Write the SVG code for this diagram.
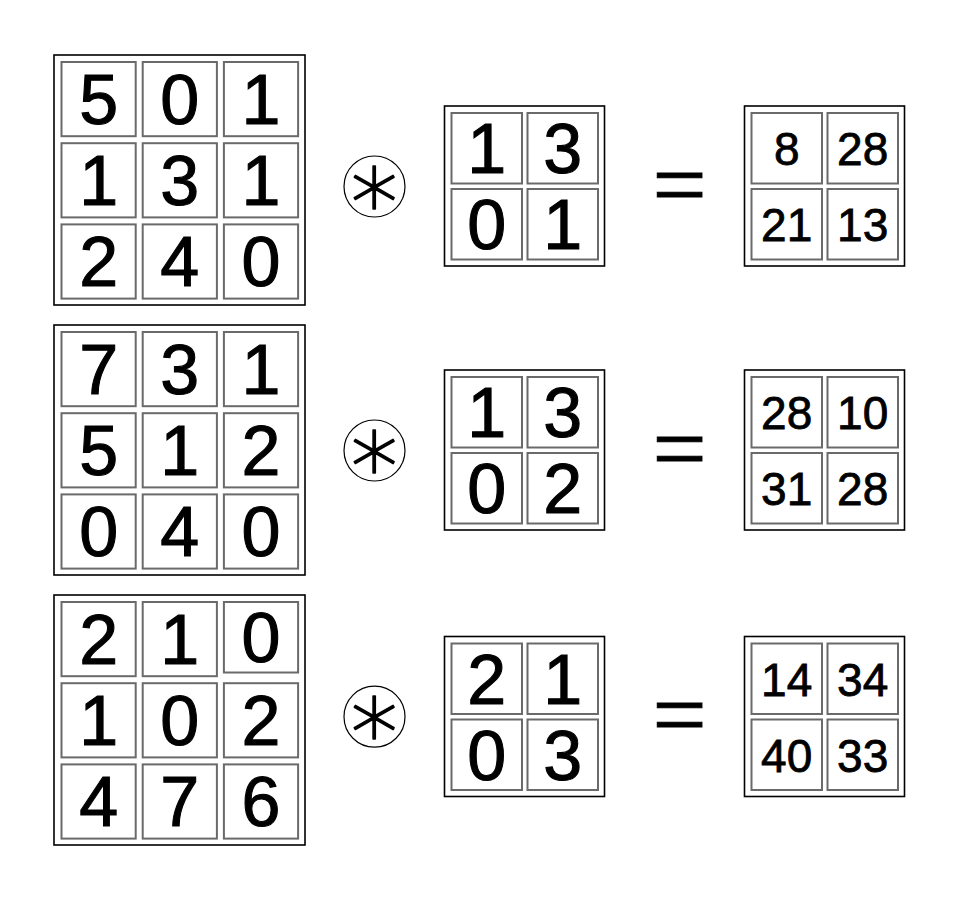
<svg xmlns="http://www.w3.org/2000/svg" width="960" height="902" viewBox="0 0 960 902">
<style>
.bg{fill:#fff}
.outer{fill:#fff;stroke:#000;stroke-width:1.6}
.cell{fill:#fff;stroke:#6a6a6a;stroke-width:2}
.big{font-family:"Liberation Sans",Arial,sans-serif;font-size:70px;text-anchor:middle;fill:#000;stroke:#000;stroke-width:1.1}
.small{font-family:"Liberation Sans",Arial,sans-serif;font-size:46px;text-anchor:middle;fill:#000;stroke:#000;stroke-width:0.8}
.ring{fill:#fff;stroke:#000;stroke-width:1.2}
.ast{font-family:"DejaVu Sans",sans-serif;font-weight:200;font-size:94px;text-anchor:middle;fill:#000;stroke:#000;stroke-width:1.6;stroke-linejoin:round}
.eq{font-family:"Liberation Serif",serif;font-size:96px;text-anchor:middle;fill:#000;stroke:#000;stroke-width:1}
</style>
<rect class="bg" x="0" y="0" width="960" height="902"/>

<!-- Row 1 -->
<g id="input1">
<rect class="outer" x="54" y="55" width="251" height="250"/>
<rect class="cell" x="61.5" y="62" width="74.2" height="74.2"/>
<rect class="cell" x="142.7" y="62" width="74.2" height="74.2"/>
<rect class="cell" x="223.9" y="62" width="74.2" height="74.2"/>
<rect class="cell" x="61.5" y="143.2" width="74.2" height="74.2"/>
<rect class="cell" x="142.7" y="143.2" width="74.2" height="74.2"/>
<rect class="cell" x="223.9" y="143.2" width="74.2" height="74.2"/>
<rect class="cell" x="61.5" y="224.4" width="74.2" height="74.2"/>
<rect class="cell" x="142.7" y="224.4" width="74.2" height="74.2"/>
<rect class="cell" x="223.9" y="224.4" width="74.2" height="74.2"/>
<text class="big" x="98.6" y="124">5</text>
<text class="big" x="179.8" y="124">0</text>
<text class="big" x="261" y="124">1</text>
<text class="big" x="98.6" y="205.2">1</text>
<text class="big" x="179.8" y="205.2">3</text>
<text class="big" x="261" y="205.2">1</text>
<text class="big" x="98.6" y="286.4">2</text>
<text class="big" x="179.8" y="286.4">4</text>
<text class="big" x="261" y="286.4">0</text>
</g>
<g id="op1">
<circle class="ring" cx="374.5" cy="186.5" r="30.5"/>
<text class="ast" x="374.5" y="217">∗</text>
</g>
<g id="kernel1">
<rect class="outer" x="444.5" y="106" width="160" height="160"/>
<rect class="cell" x="451.5" y="113" width="70.5" height="70.5"/>
<rect class="cell" x="527.5" y="113" width="70.5" height="70.5"/>
<rect class="cell" x="451.5" y="189" width="70.5" height="70.5"/>
<rect class="cell" x="527.5" y="189" width="70.5" height="70.5"/>
<text class="big" x="486.7" y="173">1</text>
<text class="big" x="562.7" y="173">3</text>
<text class="big" x="486.7" y="249">0</text>
<text class="big" x="562.7" y="249">1</text>
</g>
<g id="eq1">
<text class="eq" x="679.5" y="217">=</text>
</g>
<g id="output1">
<rect class="outer" x="744.5" y="106" width="160" height="160"/>
<rect class="cell" x="751.5" y="113" width="70.5" height="70.5"/>
<rect class="cell" x="827.5" y="113" width="70.5" height="70.5"/>
<rect class="cell" x="751.5" y="189" width="70.5" height="70.5"/>
<rect class="cell" x="827.5" y="189" width="70.5" height="70.5"/>
<text class="small" x="786.7" y="165">8</text>
<text class="small" x="862.7" y="165">28</text>
<text class="small" x="786.7" y="241">21</text>
<text class="small" x="862.7" y="241">13</text>
</g>

<!-- Row 2 -->
<g id="input2">
<rect class="outer" x="54" y="325" width="251" height="250"/>
<rect class="cell" x="61.5" y="332" width="74.2" height="74.2"/>
<rect class="cell" x="142.7" y="332" width="74.2" height="74.2"/>
<rect class="cell" x="223.9" y="332" width="74.2" height="74.2"/>
<rect class="cell" x="61.5" y="413.2" width="74.2" height="74.2"/>
<rect class="cell" x="142.7" y="413.2" width="74.2" height="74.2"/>
<rect class="cell" x="223.9" y="413.2" width="74.2" height="74.2"/>
<rect class="cell" x="61.5" y="494.4" width="74.2" height="74.2"/>
<rect class="cell" x="142.7" y="494.4" width="74.2" height="74.2"/>
<rect class="cell" x="223.9" y="494.4" width="74.2" height="74.2"/>
<text class="big" x="98.6" y="394">7</text>
<text class="big" x="179.8" y="394">3</text>
<text class="big" x="261" y="394">1</text>
<text class="big" x="98.6" y="475.2">5</text>
<text class="big" x="179.8" y="475.2">1</text>
<text class="big" x="261" y="475.2">2</text>
<text class="big" x="98.6" y="556.4">0</text>
<text class="big" x="179.8" y="556.4">4</text>
<text class="big" x="261" y="556.4">0</text>
</g>
<g id="op2">
<circle class="ring" cx="374.5" cy="450.5" r="30.5"/>
<text class="ast" x="374.5" y="481">∗</text>
</g>
<g id="kernel2">
<rect class="outer" x="444.5" y="370" width="160" height="160"/>
<rect class="cell" x="451.5" y="377" width="70.5" height="70.5"/>
<rect class="cell" x="527.5" y="377" width="70.5" height="70.5"/>
<rect class="cell" x="451.5" y="453" width="70.5" height="70.5"/>
<rect class="cell" x="527.5" y="453" width="70.5" height="70.5"/>
<text class="big" x="486.7" y="437">1</text>
<text class="big" x="562.7" y="437">3</text>
<text class="big" x="486.7" y="513">0</text>
<text class="big" x="562.7" y="513">2</text>
</g>
<g id="eq2">
<text class="eq" x="679.5" y="481">=</text>
</g>
<g id="output2">
<rect class="outer" x="744.5" y="370" width="160" height="160"/>
<rect class="cell" x="751.5" y="377" width="70.5" height="70.5"/>
<rect class="cell" x="827.5" y="377" width="70.5" height="70.5"/>
<rect class="cell" x="751.5" y="453" width="70.5" height="70.5"/>
<rect class="cell" x="827.5" y="453" width="70.5" height="70.5"/>
<text class="small" x="786.7" y="429">28</text>
<text class="small" x="862.7" y="429">10</text>
<text class="small" x="786.7" y="505">31</text>
<text class="small" x="862.7" y="505">28</text>
</g>

<!-- Row 3 -->
<g id="input3">
<rect class="outer" x="54" y="595" width="251" height="250"/>
<rect class="cell" x="61.5" y="602" width="74.2" height="74.2"/>
<rect class="cell" x="142.7" y="602" width="74.2" height="74.2"/>
<rect class="cell" x="223.9" y="602" width="74.2" height="70.5"/>
<rect class="cell" x="61.5" y="683.2" width="74.2" height="74.2"/>
<rect class="cell" x="142.7" y="683.2" width="74.2" height="74.2"/>
<rect class="cell" x="223.9" y="683.2" width="74.2" height="74.2"/>
<rect class="cell" x="61.5" y="764.4" width="74.2" height="74.2"/>
<rect class="cell" x="142.7" y="764.4" width="74.2" height="74.2"/>
<rect class="cell" x="223.9" y="764.4" width="74.2" height="74.2"/>
<text class="big" x="98.6" y="664">2</text>
<text class="big" x="179.8" y="664">1</text>
<text class="big" x="261" y="662">0</text>
<text class="big" x="98.6" y="745.2">1</text>
<text class="big" x="179.8" y="745.2">0</text>
<text class="big" x="261" y="745.2">2</text>
<text class="big" x="98.6" y="826.4">4</text>
<text class="big" x="179.8" y="826.4">7</text>
<text class="big" x="261" y="826.4">6</text>
</g>
<g id="op3">
<circle class="ring" cx="374.5" cy="716.7" r="30.5"/>
<text class="ast" x="374.5" y="747">∗</text>
</g>
<g id="kernel3">
<rect class="outer" x="444.5" y="636.5" width="160" height="160"/>
<rect class="cell" x="451.5" y="643.5" width="70.5" height="70.5"/>
<rect class="cell" x="527.5" y="643.5" width="70.5" height="70.5"/>
<rect class="cell" x="451.5" y="719.5" width="70.5" height="70.5"/>
<rect class="cell" x="527.5" y="719.5" width="70.5" height="70.5"/>
<text class="big" x="486.7" y="703.5">2</text>
<text class="big" x="562.7" y="703.5">1</text>
<text class="big" x="486.7" y="779.5">0</text>
<text class="big" x="562.7" y="779.5">3</text>
</g>
<g id="eq3">
<text class="eq" x="679.5" y="747">=</text>
</g>
<g id="output3">
<rect class="outer" x="744.5" y="636.5" width="160" height="160"/>
<rect class="cell" x="751.5" y="643.5" width="70.5" height="70.5"/>
<rect class="cell" x="827.5" y="643.5" width="70.5" height="70.5"/>
<rect class="cell" x="751.5" y="719.5" width="70.5" height="70.5"/>
<rect class="cell" x="827.5" y="719.5" width="70.5" height="70.5"/>
<text class="small" x="786.7" y="695.5">14</text>
<text class="small" x="862.7" y="695.5">34</text>
<text class="small" x="786.7" y="771.5">40</text>
<text class="small" x="862.7" y="771.5">33</text>
</g>
<g id="connectors"/>
</svg>
